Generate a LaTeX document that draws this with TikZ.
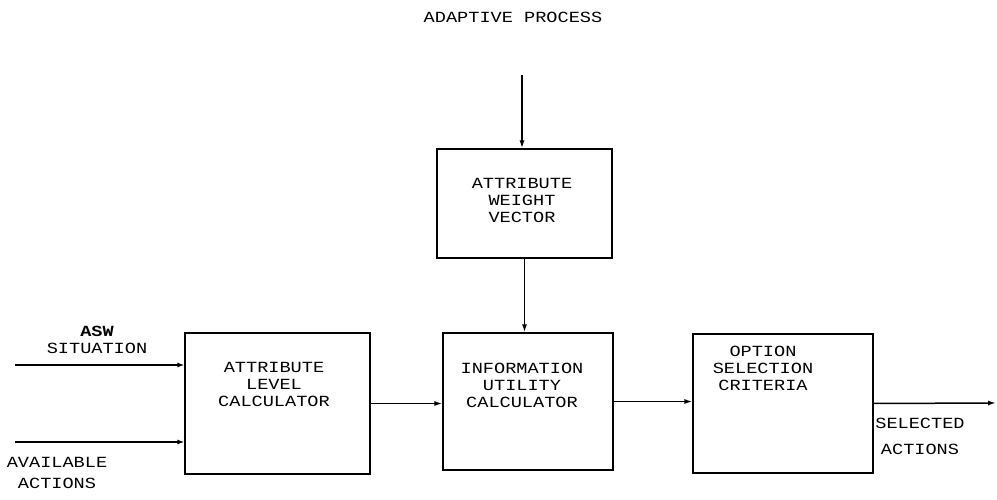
\documentclass[tikz,border=0pt]{standalone}
\usepackage{fontspec}
\setmonofont[FakeStretch=1.2]{Liberation Mono}
\usetikzlibrary{arrows.meta}
\begin{document}
\begin{tikzpicture}[x=1pt,y=-1pt,
  blk/.style={draw,line width=1.2pt,minimum width=#1,inner sep=0pt},
  lbl/.style={font=\ttfamily\fontsize{15.5}{17}\selectfont,align=center,inner sep=0pt},
  flow/.style={line width=1.5pt,-{Latex[length=8pt,width=5pt]}},
  inflow/.style={line width=2.2pt,-{Latex[length=7pt,width=5pt]}}]
\useasboundingbox (0,0) rectangle (997,500);

% processing blocks
\node[blk=175pt,minimum height=109pt] (weight) at (524.5,203.5) {};
\node[blk=185pt,minimum height=141pt] (alc) at (277.5,403.5) {};
\node[blk=170pt,minimum height=137pt] (info) at (528,401.5) {};
\node[blk=180pt,minimum height=139pt] (opt) at (783,403.5) {};

% block captions
\node[lbl] (tw) at (522,200) {ATTRIBUTE\\WEIGHT\\VECTOR};
\node[lbl] (ta) at (274,384) {ATTRIBUTE\\LEVEL\\CALCULATOR};
\node[lbl] (ti) at (522,385) {INFORMATION\\UTILITY\\CALCULATOR};
\node[lbl] (to) at (763,368) {OPTION\\SELECTION\\CRITERIA};

% outside labels
\node[lbl] (title) at (513,17) {ADAPTIVE PROCESS};
\node[lbl] (asw) at (97,340) {\textbf{ASW}\\SITUATION};
\node[lbl] (avail) at (57,473) {AVAILABLE\\[4pt]ACTIONS};
\node[lbl] (sel) at (920,436) {SELECTED\\[9pt]ACTIONS};

% connectors
\coordinate (top) at (522,75);
\coordinate (in1) at (15,365);
\coordinate (in2) at (15,442);
\coordinate (out) at (996,403);
\draw[flow] (top) -- (top |- weight.north);
\draw[flow] (weight.south) -- (weight.south |- info.north);
\draw[inflow] (in1) -- (in1 -| alc.west);
\draw[inflow] (in2) -- (in2 -| alc.west);
\draw[flow] (alc.east) -- (alc.east -| info.west);
\draw[flow] (info.east) -- (info.east -| opt.west);
\draw[flow] (opt.east) -- (out);
\end{tikzpicture}
\end{document}
